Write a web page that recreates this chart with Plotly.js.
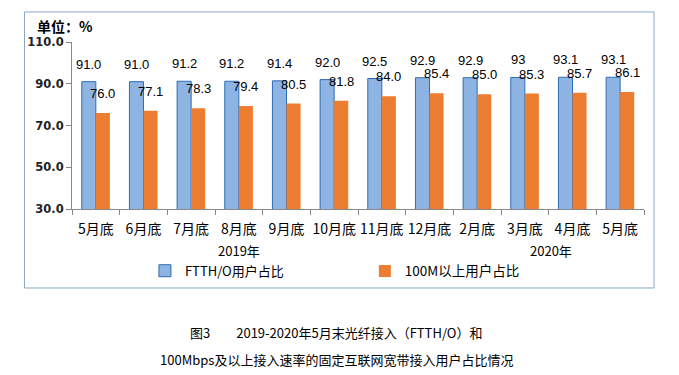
<!DOCTYPE html>
<html>
<head>
<meta charset="utf-8">
<script src="https://cdn.plot.ly/plotly-3.0.1.min.js"></script>
<style>html,body{margin:0;padding:0;background:#fff;}#chart{width:679px;height:375px;}</style>
</head>
<body>
<div id="chart"></div>
<script>
const categories = ["5月底","6月底","7月底","8月底","9月底","10月底","11月底","12月底","2月底","3月底","4月底","5月底"];
const ftthValues = [91.0, 91.0, 91.2, 91.2, 91.4, 92.0, 92.5, 92.9, 92.9, 93, 93.1, 93.1];
const ftthLabels = ["91.0","91.0","91.2","91.2","91.4","92.0","92.5","92.9","92.9","93","93.1","93.1"];
const m100Values = [76.0, 77.1, 78.3, 79.4, 80.5, 81.8, 84.0, 85.4, 85.0, 85.3, 85.7, 86.1];
const m100Labels = ["76.0","77.1","78.3","79.4","80.5","81.8","84.0","85.4","85.0","85.3","85.7","86.1"];
const yTicks = [30, 50, 70, 90, 110];
const seriesNames = ["FTTH/O用户占比", "100M以上用户占比"];
const yearLabels = ["2019年", "2020年"];
const captionLines = ["图3　　2019-2020年5月末光纤接入（FTTH/O）和", "100Mbps及以上接入速率的固定互联网宽带接入用户占比情况"];

const idx = categories.map((c, i) => i);
const cjk = '"Noto Sans CJK SC", "Noto Sans", sans-serif';

const traces = [
  {
    type: 'bar', x: idx, y: ftthValues, name: seriesNames[0],
    marker: {color: '#8db4e2', line: {color: '#2e6db4', width: 1}},
    legend: 'legend', hoverinfo: 'skip'
  },
  {
    type: 'bar', x: idx, y: m100Values, name: seriesNames[1],
    marker: {color: '#ed7d31', line: {width: 0}},
    legend: 'legend2', hoverinfo: 'skip'
  }
];

const annotations = [];
idx.forEach(i => {
  annotations.push({x: i, y: ftthValues[i], xref: 'x', yref: 'y', text: ftthLabels[i], showarrow: false,
    xshift: -7, yshift: 8, yanchor: 'bottom', font: {family: '"Liberation Sans", Arial, sans-serif', size: 13, color: '#000'}});
  annotations.push({x: i, y: m100Values[i], xref: 'x', yref: 'y', text: m100Labels[i], showarrow: false,
    xshift: 7, yshift: 10, yanchor: 'bottom', font: {family: '"Liberation Sans", Arial, sans-serif', size: 13, color: '#000'}});
});
annotations.push({x: 3.0, y: -0.25, xref: 'x', yref: 'paper', text: yearLabels[0], showarrow: false,
  yanchor: 'middle', font: {family: cjk, size: 13, color: '#000'}});
annotations.push({x: 9.55, y: -0.25, xref: 'x', yref: 'paper', text: yearLabels[1], showarrow: false,
  yanchor: 'middle', font: {family: cjk, size: 13, color: '#000'}});
annotations.push({x: -0.065, y: 1.097, xref: 'paper', yref: 'paper', text: '<b>单位：%</b>', showarrow: false,
  xanchor: 'left', yanchor: 'middle', font: {family: cjk, size: 14, color: '#000'}});
annotations.push({x: 0.461, y: -0.74, xref: 'paper', yref: 'paper', text: captionLines[0], showarrow: false,
  yanchor: 'middle', font: {family: cjk, size: 13, color: '#000'}});
annotations.push({x: 0.463, y: -0.9, xref: 'paper', yref: 'paper', text: captionLines[1], showarrow: false,
  yanchor: 'middle', font: {family: cjk, size: 13, color: '#000'}});

const layout = {
  width: 679, height: 375,
  margin: {l: 72, r: 35, t: 42, b: 166},
  paper_bgcolor: '#fff', plot_bgcolor: '#fff',
  barmode: 'group', bargap: 0.41, bargroupgap: 0,
  showlegend: true,
  xaxis: {
    range: [-0.5, 11.5], tickvals: idx, ticktext: categories, ticks: '', ticklabelstandoff: 7,
    showline: true, linecolor: '#888', linewidth: 1, showgrid: false, zeroline: false,
    tickfont: {family: cjk, size: 14, color: '#000'},
    minor: {tick0: -0.5, dtick: 1, ticks: 'outside', ticklen: 5, tickcolor: '#888', showgrid: false}
  },
  yaxis: {
    range: [30, 110], tickvals: yTicks, tickformat: '.1f', ticks: 'outside', ticklen: 5, tickcolor: '#888',
    showline: true, linecolor: '#888', linewidth: 1, showgrid: false, zeroline: false,
    tickfont: {family: '"DejaVu Sans", Verdana, sans-serif', size: 11.5, color: '#222', weight: 'bold'}
  },
  legend: {orientation: 'h', x: 0.1275, y: -0.28, xanchor: 'left', yanchor: 'top', itemwidth: 30,
    font: {family: cjk, size: 13, color: '#000'}, bgcolor: 'rgba(0,0,0,0)'},
  legend2: {orientation: 'h', x: 0.512, y: -0.28, xanchor: 'left', yanchor: 'top', itemwidth: 30,
    font: {family: cjk, size: 13.5, color: '#000'}, bgcolor: 'rgba(0,0,0,0)'},
  shapes: [{type: 'rect', xref: 'paper', yref: 'paper', x0: -0.083, x1: 1.0175, y0: -0.473, y1: 1.18,
    line: {color: '#8aa6c6', width: 1}, fillcolor: 'rgba(0,0,0,0)', layer: 'below'}],
  annotations: annotations
};

Plotly.newPlot('chart', traces, layout, {staticPlot: true, displayModeBar: false});
</script>
</body>
</html>
